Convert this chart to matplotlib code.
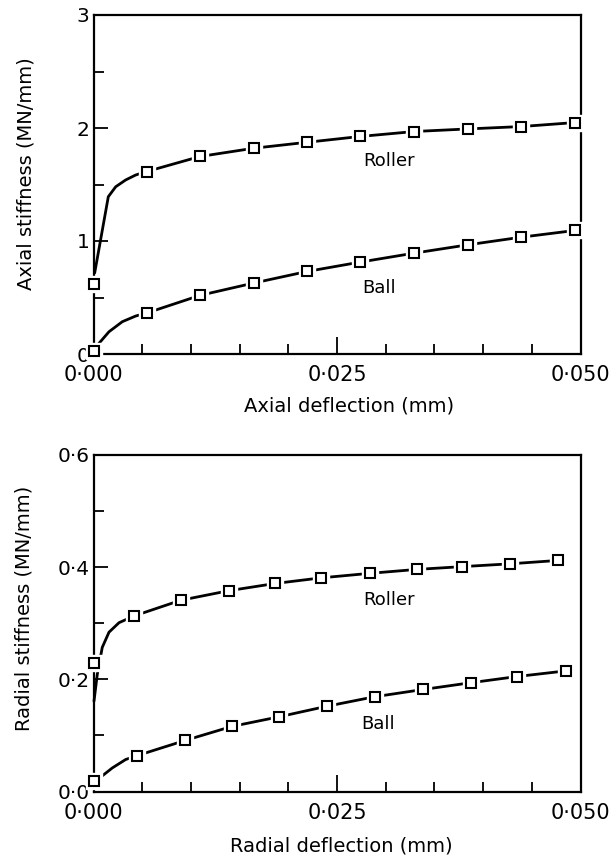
import matplotlib
matplotlib.use("Agg")
import matplotlib.pyplot as plt
from matplotlib.ticker import MultipleLocator

# ---------------- data ----------------
# Axial stiffness (MN/mm) vs axial deflection (mm)
ax_roller_x = [0.0, 0.00547, 0.01094, 0.01645, 0.02196, 0.02736, 0.03295, 0.0385, 0.04393, 0.0494]
ax_roller_y = [0.62, 1.615, 1.748, 1.821, 1.874, 1.925, 1.969, 1.992, 2.013, 2.048]
ax_ball_x = [0.0, 0.00547, 0.01094, 0.01645, 0.02196, 0.02736, 0.03295, 0.0385, 0.04393, 0.0494]
ax_ball_y = [0.03, 0.363, 0.519, 0.628, 0.731, 0.813, 0.893, 0.967, 1.034, 1.093]
# start of the drawn curves (before the second marker)
ax_roller_cx = [0.00012, 0.00152, 0.00228, 0.0033, 0.00433]
ax_roller_cy = [0.717, 1.392, 1.48, 1.54, 1.584]
ax_ball_cx = [0.00056, 0.00159, 0.00296, 0.00433]
ax_ball_cy = [0.094, 0.197, 0.286, 0.336]

# Radial stiffness (MN/mm) vs radial deflection (mm)
rad_roller_x = [0.0, 0.00416, 0.00896, 0.01388, 0.01868, 0.0234, 0.02836, 0.0332, 0.03788, 0.0428, 0.04768]
rad_roller_y = [0.229, 0.313, 0.341, 0.358, 0.371, 0.381, 0.389, 0.396, 0.401, 0.406, 0.412]
rad_ball_x = [0.0, 0.00448, 0.0094, 0.0142, 0.019, 0.02396, 0.02888, 0.03388, 0.03876, 0.04348, 0.04848]
rad_ball_y = [0.019, 0.064, 0.091, 0.116, 0.133, 0.152, 0.169, 0.182, 0.194, 0.205, 0.215]
rad_roller_cx = [0.00005, 0.00039, 0.0009, 0.00159, 0.00262]
rad_roller_cy = [0.161, 0.209, 0.257, 0.284, 0.301]
rad_ball_cx = [0.0004, 0.00193, 0.0033]
rad_ball_cy = [0.021, 0.042, 0.057]

x_ticks = [0.0, 0.025, 0.05]
x_ticklabels = ["0\u00b7000", "0\u00b7025", "0\u00b7050"]
top_yticks = [0, 1, 2, 3]
top_yticklabels = ["0", "1", "2", "3"]
bot_yticks = [0.0, 0.2, 0.4, 0.6]
bot_yticklabels = ["0\u00b70", "0\u00b72", "0\u00b74", "0\u00b76"]

plt.rcParams['font.family'] = ['DejaVu Sans']

fig = plt.figure(figsize=(6.1, 8.58), dpi=100)
# axes boxes in pixels: left 93.5, right 580.5; top 15-354, bottom 455-791.5
ax1 = fig.add_axes([93.5 / 610, 1 - 354 / 858, 487 / 610, 339 / 858])
ax2 = fig.add_axes([93.5 / 610, 1 - 791.5 / 858, 487 / 610, 336.5 / 858])


def draw_series(ax, cx, cy, mx, my):
    ax.plot(list(cx) + list(mx[1:]), list(cy) + list(my[1:]), color='black', lw=2.0,
            solid_capstyle='round', zorder=2, clip_on=False)
    ax.plot(mx, my, 's', ms=11, mfc='white', mec='white', zorder=3, clip_on=False)
    ax.plot(mx, my, 's', ms=6.5, mfc='white', mec='black', mew=1.5, zorder=4, clip_on=False)


def style(ax, ylim, ymin, yticks, yticklabels, xlabel, ylabel):
    ax.set_xlim(0, 0.05)
    ax.set_ylim(*ylim)
    for s in ax.spines.values():
        s.set_linewidth(1.6)
    ax.set_xticks(x_ticks)
    ax.set_xticklabels(x_ticklabels, fontsize=15)
    ax.xaxis.set_minor_locator(MultipleLocator(0.005))
    ax.set_yticks(yticks)
    ax.set_yticklabels(yticklabels, fontsize=14.5)
    ax.yaxis.set_minor_locator(MultipleLocator(ymin))
    ax.tick_params(axis='both', which='both', direction='in', top=False, right=False)
    ax.tick_params(axis='x', which='major', length=12, width=1.3, pad=8)
    ax.tick_params(axis='x', which='minor', length=7, width=1.3)
    ax.tick_params(axis='y', which='major', length=10, width=1.3, pad=3)
    ax.tick_params(axis='y', which='minor', length=7, width=1.3)
    ax.set_xlabel(xlabel, fontsize=14)
    ax.set_ylabel(ylabel, fontsize=14)


draw_series(ax1, ax_roller_cx, ax_roller_cy, ax_roller_x, ax_roller_y)
draw_series(ax1, ax_ball_cx, ax_ball_cy, ax_ball_x, ax_ball_y)
style(ax1, (0, 3), 0.5, top_yticks, top_yticklabels,
      "Axial deflection (mm)", "Axial stiffness (MN/mm)")
ax1.text(0.0303, 1.708, "Roller", fontsize=13, ha='center', va='center')
ax1.text(0.0293, 0.584, "Ball", fontsize=13, ha='center', va='center')

draw_series(ax2, rad_roller_cx, rad_roller_cy, rad_roller_x, rad_roller_y)
draw_series(ax2, rad_ball_cx, rad_ball_cy, rad_ball_x, rad_ball_y)
style(ax2, (0, 0.6), 0.1, bot_yticks, bot_yticklabels,
      "Radial deflection (mm)", "Radial stiffness (MN/mm)")
ax2.text(0.0303, 0.342, "Roller", fontsize=13, ha='center', va='center')
ax2.text(0.02926, 0.121, "Ball", fontsize=13, ha='center', va='center')

# label positions (figure pixels -> axes fractions)
ax1.xaxis.set_label_coords((349.5 - 93.5) / 487.0, (354 - 397) / 339.0)
ax1.yaxis.set_label_coords((36 - 93.5) / 487.0, (354 - 174) / 339.0)
ax2.xaxis.set_label_coords((341 - 93.5) / 487.0, (791.5 - 836) / 336.5)
ax2.yaxis.set_label_coords((34 - 93.5) / 487.0, (791.5 - 608) / 336.5)

fig.savefig("out.png", dpi=100, facecolor='white')
